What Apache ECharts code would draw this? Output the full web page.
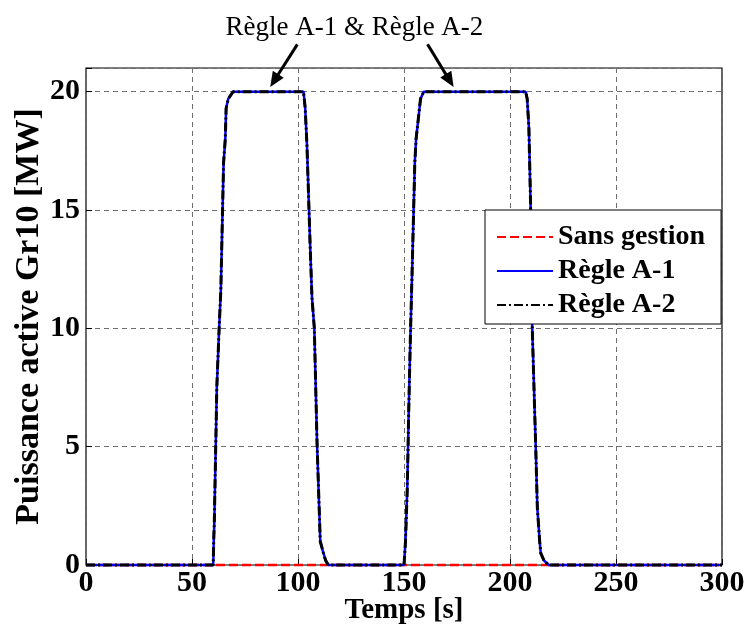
<!DOCTYPE html>
<html>
<head>
<meta charset="utf-8">
<script src="https://cdn.jsdelivr.net/npm/echarts@6/dist/echarts.min.js"></script>
<style>
  html, body { margin: 0; padding: 0; background: #fff; }
  #main { width: 744px; height: 632px; }
</style>
</head>
<body>
<div id="main"></div>
<script>
// temps [s] des points
const temps = [0, 60, 60.3, 60.5, 61.2, 61.7, 62.8, 63.6, 64.9, 65.7,
  66.1, 67.1, 69.4, 102.6, 103.4, 104.2, 105.8, 106.6, 107.7, 109.0,
  110.5, 112.0, 113.0, 114.3, 150, 150.7, 151.5, 151.9, 152.2, 153.0, 153.8,
  155.1, 155.7, 157.8, 159.3, 207.4, 208.1, 208.9, 209.7, 210.5, 212.1,
  212.9, 214.0, 214.5, 216.0, 218.2, 300];
// puissance [MW]
const regleA1 = [0, 0, 1.2, 1.7, 5.0, 7.5, 10.0, 11.6, 17.0, 18.0,
  19.3, 19.7, 20, 20, 19.3, 17.8, 13.3, 11.3, 10.0, 5.1,
  1.0, 0.5, 0.2, 0, 0, 1.0, 3.1, 4.9, 6.4, 9.6, 12.3,
  17.0, 18.0, 19.7, 20, 20, 19.7, 18.5, 15.3, 10.0, 5.1,
  2.4, 1.0, 0.5, 0.2, 0, 0];
// Règle A-2 superposée à Règle A-1
const regleA2 = [0, 0, 1.2, 1.7, 5.0, 7.5, 10.0, 11.6, 17.0, 18.0,
  19.3, 19.7, 20, 20, 19.3, 17.8, 13.3, 11.3, 10.0, 5.1,
  1.0, 0.5, 0.2, 0, 0, 1.0, 3.1, 4.9, 6.4, 9.6, 12.3,
  17.0, 18.0, 19.7, 20, 20, 19.7, 18.5, 15.3, 10.0, 5.1,
  2.4, 1.0, 0.5, 0.2, 0, 0];
const tempsSans = [0, 300];
const sansGestion = [0, 0];

const xTicks = [0, 50, 100, 150, 200, 250, 300];
const yTicks = [0, 5, 10, 15, 20];

const annotText = 'Règle A-1 & Règle A-2';
const annotPos = [126.6, 22.7];
// flèches : [départ, pointe] en coordonnées des données
const arrows = [
  [[99.7, 22.0], [86.9, 20.2]],
  [[161.1, 22.0], [173.4, 20.2]]
];

const zip = (xs, ys) => xs.map((x, i) => [x, ys[i]]);
const serif = 'Liberation Serif, Times New Roman, serif';

const chart = echarts.init(document.getElementById('main'));

const gridDash = { show: true, lineStyle: { color: '#6e6e6e', type: [5, 4], width: 1 } };

chart.setOption({
  animation: false,
  backgroundColor: '#fff',
  grid: {
    left: 86, right: 22, top: 68, bottom: 67,
    outerBoundsMode: 'none', containLabel: false,
    show: true, borderColor: '#000', borderWidth: 1.2, backgroundColor: 'transparent'
  },
  xAxis: {
    type: 'value', min: xTicks[0], max: xTicks[xTicks.length - 1], interval: 50,
    name: 'Temps [s]', nameLocation: 'middle', nameGap: 31, nameMoveOverlap: false,
    nameTextStyle: { fontFamily: serif, fontWeight: 'bold', fontSize: 29, color: '#000' },
    axisLine: { show: false },
    axisTick: { show: true, inside: true, length: 6, lineStyle: { color: '#000' } },
    axisLabel: { fontFamily: serif, fontWeight: 'bold', fontSize: 30, color: '#000', margin: 3 },
    splitLine: gridDash
  },
  yAxis: {
    type: 'value', min: yTicks[0], max: 21, interval: 5,
    name: 'Puissance active Gr10 [MW]', nameLocation: 'middle', nameGap: 40, nameMoveOverlap: false,
    nameTextStyle: { fontFamily: serif, fontWeight: 'bold', fontSize: 34, color: '#000' },
    axisLine: { show: false },
    axisTick: { show: true, inside: true, length: 6, lineStyle: { color: '#000' } },
    axisLabel: {
      fontFamily: serif, fontWeight: 'bold', fontSize: 30, color: '#000', margin: 6,
      formatter: v => (yTicks.indexOf(v) >= 0 ? String(v) : '')
    },
    splitLine: gridDash
  },
  legend: {
    orient: 'vertical', left: 485, top: 210, z: 20,
    padding: [12, 16, 4, 11], itemGap: 4, itemWidth: 56, itemHeight: 14, itemTextGap: 9,
    backgroundColor: '#fff', borderColor: '#000', borderWidth: 1,
    itemStyle: { opacity: 0 },
    textStyle: { fontFamily: serif, fontWeight: 'bold', fontSize: 28, color: '#000', lineHeight: 30 },
    data: ['Sans gestion', 'Règle A-1', 'Règle A-2']
  },
  series: [
    {
      name: 'Sans gestion', type: 'line', data: zip(tempsSans, sansGestion),
      symbol: 'none', clip: false, z: 1,
      itemStyle: { color: '#ff0000' },
      lineStyle: { color: '#ff0000', width: 2.5, type: [9, 4] }
    },
    {
      name: 'Règle A-1', type: 'line', data: zip(temps, regleA1),
      symbol: 'none', clip: false, z: 2,
      itemStyle: { color: '#0000ff' },
      lineStyle: { color: '#0000ff', width: 2.5, type: 'solid' }
    },
    {
      name: 'Règle A-2', type: 'line', data: zip(temps, regleA2),
      symbol: 'none', clip: false, z: 3,
      itemStyle: { color: '#000' },
      lineStyle: { color: '#000', width: 3, type: [9, 3, 2, 3] }
    }
  ]
});

// annotation et flèches placées via le repère de la grille
const px = p => chart.convertToPixel({ gridIndex: 0 }, p);
const graphics = [];
const tp = px(annotPos);
graphics.push({
  type: 'text', x: tp[0], y: tp[1], z: 10,
  style: { text: annotText, fontFamily: serif, fontSize: 27, fill: '#000', align: 'center', verticalAlign: 'middle' }
});
arrows.forEach(([from, to]) => {
  const a = px(from), b = px(to);
  const dx = b[0] - a[0], dy = b[1] - a[1];
  const len = Math.sqrt(dx * dx + dy * dy);
  const ux = dx / len, uy = dy / len;
  const head = 15, half = 6.5;
  const bx = b[0] - ux * head, by = b[1] - uy * head;
  graphics.push({
    type: 'line', z: 10,
    shape: { x1: a[0], y1: a[1], x2: bx + ux * 2, y2: by + uy * 2 },
    style: { stroke: '#000', lineWidth: 3 }
  });
  graphics.push({
    type: 'polygon', z: 10,
    shape: { points: [b, [bx - uy * half, by + ux * half], [bx + uy * half, by - ux * half]] },
    style: { fill: '#000' }
  });
});
chart.setOption({ graphic: graphics });
</script>
</body>
</html>
